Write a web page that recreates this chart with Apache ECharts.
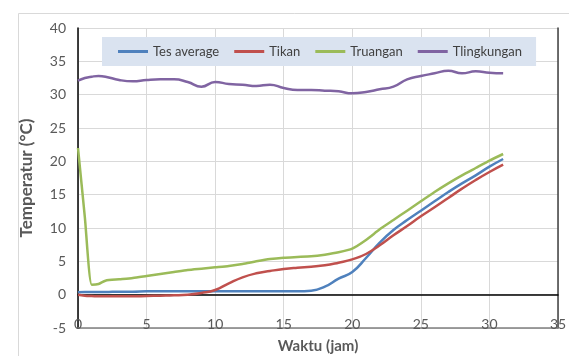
<!DOCTYPE html>
<html>
<head>
<meta charset="utf-8">
<script src="https://cdn.jsdelivr.net/npm/echarts@6/dist/echarts.min.js"></script>
<style>
html,body{margin:0;padding:0;background:#fff;}
#c{width:569px;height:356px;}
</style>
</head>
<body>
<div id="c"></div>
<script>
var hours = [0,0.5,1,1.5,2,3,4,5,6,7,8,9,10,11,12,13,14,15,16,17,18,19,20,21,22,23,24,25,26,27,28,29,30,31];
var tesAverage = [0.35,0.4,0.4,0.4,0.4,0.45,0.45,0.5,0.5,0.5,0.5,0.5,0.5,0.5,0.5,0.5,0.5,0.5,0.5,0.6,1.2,2.4,3.4,5.5,7.8,9.7,11.2,12.6,14.0,15.4,16.7,17.9,19.2,20.35];
var tikan = [0.0,-0.15,-0.2,-0.25,-0.25,-0.25,-0.25,-0.2,-0.15,-0.1,0.0,0.25,0.7,1.7,2.6,3.2,3.55,3.85,4.05,4.2,4.4,4.8,5.3,6.1,7.4,8.9,10.3,11.75,13.1,14.5,15.9,17.2,18.4,19.5];
var truangan = [22.0,11.6,1.5,1.6,2.1,2.3,2.5,2.8,3.1,3.4,3.7,3.9,4.1,4.3,4.6,5.0,5.35,5.55,5.65,5.75,6.0,6.35,6.9,8.2,9.8,11.2,12.6,14.0,15.4,16.7,17.9,19.0,20.1,21.1];
var tlingkungan = [32.1,32.5,32.7,32.8,32.7,32.2,32.0,32.2,32.3,32.3,31.9,31.2,31.9,31.6,31.5,31.3,31.5,31.0,30.7,30.7,30.6,30.5,30.2,30.4,30.8,31.2,32.3,32.8,33.2,33.6,33.2,33.5,33.3,33.2];
var seriesNames = ['Tes average','Tikan','Truangan','Tlingkungan'];
var seriesColors = ['#4F81BD','#C0504D','#9BBB59','#8064A2'];
var seriesSmooth = [0.5,0.5,0.2,0.5];
var xTicks = {min:0,max:35,interval:5};
var yTicks = {min:-5,max:40,interval:5};

function pairs(vals){ return hours.map(function(h,i){ return [h, vals[i]]; }); }
var allVals = [tesAverage, tikan, truangan, tlingkungan];
var FONT = 'Lato, "Open Sans", sans-serif';

var chart = echarts.init(document.getElementById('c'), null, {renderer:'canvas'});
chart.setOption({
  animation:false,
  backgroundColor:'#fff',
  graphic:[{type:'rect', left:16, top:11, shape:{width:600, height:400}, style:{fill:'none', stroke:'#d9d9d9', lineWidth:1}, z:-10}],
  grid:{left:78, right:11, top:28, bottom:28, containLabel:false, outerBoundsMode:'none'},
  legend:{
    data:seriesNames, left:102, top:37, padding:[8,14,8,16],
    backgroundColor:'#dae3f0', itemWidth:30, itemHeight:3, itemGap:15, icon:'rect',
    textStyle:{color:'#404040', fontSize:13, fontFamily:FONT}
  },
  xAxis:[{
    type:'value', min:xTicks.min, max:xTicks.max, interval:xTicks.interval,
    name:'Waktu (jam)', nameLocation:'middle', nameGap:11,
    nameTextStyle:{color:'#595959', fontSize:15, fontWeight:'bold', fontFamily:FONT},
    axisLine:{onZero:false, lineStyle:{color:'#808080', width:1.5}},
    axisTick:{show:false},
    axisLabel:{inside:true, margin:-3, color:'#595959', fontSize:14, fontFamily:FONT},
    splitLine:{show:true, lineStyle:{color:'#d9d9d9', width:1}}
  },{
    type:'value', min:xTicks.min, max:xTicks.max, interval:xTicks.interval,
    axisLine:{onZero:true, lineStyle:{color:'#000', width:1.5}},
    axisTick:{show:false}, axisLabel:{show:false}, splitLine:{show:false}
  }],
  yAxis:[{
    type:'value', min:yTicks.min, max:yTicks.max, interval:yTicks.interval,
    name:'Temperatur (°C)', nameLocation:'middle', nameGap:43,
    nameTextStyle:{color:'#595959', fontSize:17, fontWeight:'bold', fontFamily:FONT},
    axisLine:{show:true, onZero:false, lineStyle:{color:'#000', width:1.5}},
    axisTick:{show:false},
    axisLabel:{margin:12, color:'#595959', fontSize:14, fontFamily:FONT},
    splitLine:{show:true, lineStyle:{color:'#d9d9d9', width:1}}
  },{
    type:'value', position:'right', min:yTicks.min, max:yTicks.max, interval:yTicks.interval,
    axisLine:{show:true, onZero:false, lineStyle:{color:'#404040', width:1.5}},
    axisTick:{show:false}, axisLabel:{show:false}, splitLine:{show:false}
  }],
  series: seriesNames.map(function(n,i){
    return {
      name:n, type:'line', xAxisIndex:0, yAxisIndex:0,
      data:pairs(allVals[i]), smooth:seriesSmooth[i],
      showSymbol:false, symbol:'none',
      lineStyle:{color:seriesColors[i], width:2.5},
      itemStyle:{color:seriesColors[i]}
    };
  })
});
</script>
</body>
</html>
